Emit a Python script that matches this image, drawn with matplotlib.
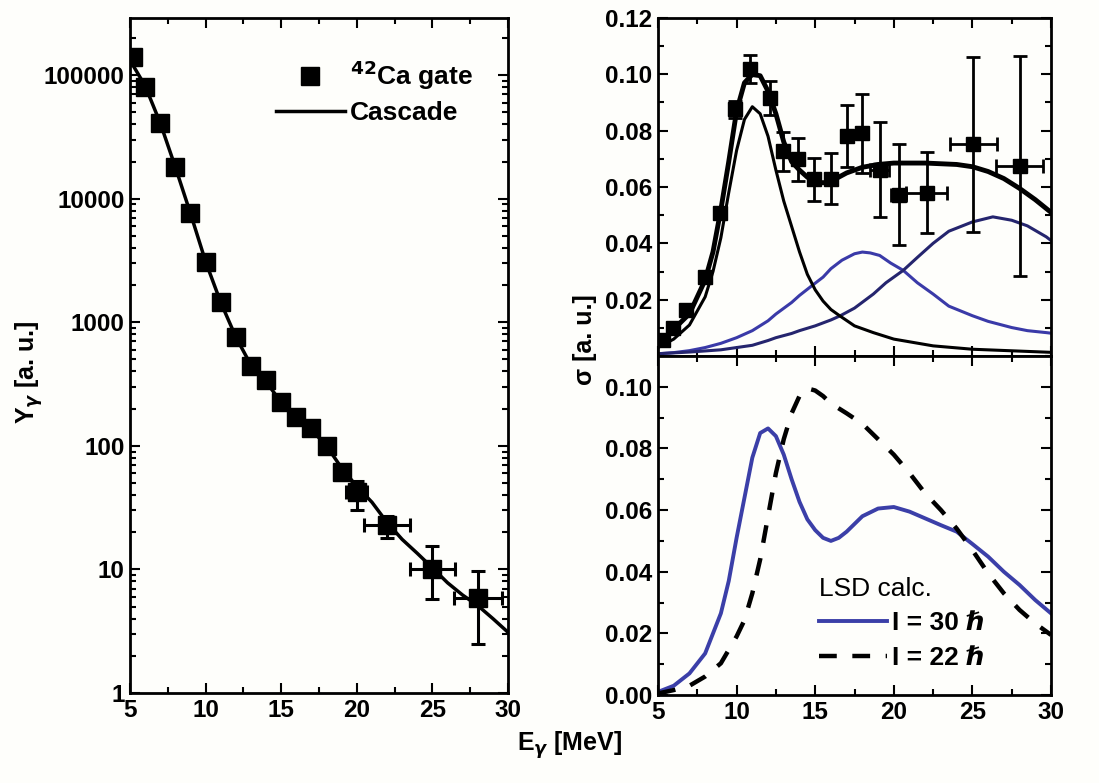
import matplotlib
matplotlib.use("Agg")
import matplotlib.pyplot as plt
from matplotlib.ticker import MultipleLocator, LogLocator, NullFormatter, FixedLocator
from matplotlib.lines import Line2D

plt.rcParams['font.family'] = ['Liberation Sans', 'DejaVu Sans']
plt.rcParams['font.weight'] = 'bold'

# ---------------- Left panel: gamma yield ----------------
yield_x = [5.2, 6, 7, 8, 9, 10, 11, 12, 13, 14, 15, 16, 17, 18, 19, 20, 22, 25, 28]
yield_y = [140000, 80000, 41000, 18000, 7600, 3100, 1450, 760, 440, 340, 225, 170, 140, 100, 61, 42, 23, 10, 5.9]
yield_yerr_lo = [0, 0, 0, 0, 0, 0, 0, 0, 0, 0, 0, 0, 0, 0, 8, 12, 5, 4.2, 3.4]
yield_yerr_hi = [0, 0, 0, 0, 0, 0, 0, 0, 0, 0, 0, 0, 0, 0, 8, 10, 4, 5.5, 3.8]
yield_xerr = [0, 0, 0, 0, 0, 0, 0, 0, 0, 0, 0, 0, 0, 0, 0.5, 0.7, 1.5, 1.5, 1.6]

cascade_x = [5, 5.2, 6, 7, 8, 9, 10, 11, 12, 13, 14, 15, 16, 17, 18, 19, 20, 21, 22, 23, 24, 25, 26, 27, 28, 29, 30]
cascade_y = [150000, 120000, 82000, 41000, 18000, 7600, 3100, 1450, 760, 450, 330, 225, 170, 135, 100, 66, 47, 35, 24, 17.5, 13.5, 10.3, 7.8, 6.2, 5.1, 4.0, 3.1]

# ---------------- Upper right: strength function fit ----------------
sig_x = [5.3, 5.95, 6.8, 7.97, 8.93, 9.88, 10.84, 12.1, 12.96, 13.9, 14.9, 16.0, 17.0, 17.95, 19.1, 20.3, 22.1, 25.05, 28.0]
sig_y = [0.0058, 0.010, 0.0164, 0.028, 0.0508, 0.0876, 0.1018, 0.0917, 0.0727, 0.0698, 0.0627, 0.063, 0.078, 0.079, 0.0662, 0.0573, 0.058, 0.0751, 0.0674]
sig_yerr = [0.001, 0.001, 0.0015, 0.002, 0.002, 0.003, 0.005, 0.006, 0.007, 0.0075, 0.0075, 0.009, 0.011, 0.014, 0.017, 0.018, 0.0145, 0.031, 0.039]
sig_xerr = [0, 0, 0, 0, 0, 0, 0, 0, 0, 0, 0, 0, 0, 0, 0.6, 0.5, 1.3, 1.5, 1.5]

total_x = [5, 5.5, 6, 7, 8, 8.5, 9, 9.5, 10, 10.5, 11, 11.5, 12, 12.5, 13, 13.5, 14, 14.5, 15, 15.5,
           16, 17, 18, 19, 20, 22, 24, 25, 26, 27, 28, 29, 30]
total_y = [0.005, 0.0065, 0.0095, 0.015, 0.027, 0.037, 0.052, 0.069, 0.087, 0.097, 0.100, 0.0995, 0.094,
           0.086, 0.076, 0.069, 0.066, 0.0635, 0.062, 0.0615, 0.062, 0.065, 0.067, 0.068, 0.0685, 0.0685,
           0.068, 0.0672, 0.0655, 0.063, 0.0595, 0.0555, 0.051]

gdr1_x = [5, 6, 7, 8, 8.5, 9, 9.5, 10, 10.5, 11, 11.5, 12, 12.5, 13, 13.5, 14, 14.5, 15, 15.5, 16,
          16.5, 17.5, 18.7, 20, 22.5, 25, 30]
gdr1_y = [0.003, 0.006, 0.011, 0.021, 0.030, 0.042, 0.058, 0.073, 0.084, 0.0885, 0.086, 0.078, 0.066,
          0.055, 0.046, 0.037, 0.029, 0.0235, 0.0195, 0.0165, 0.0145, 0.0107, 0.0083, 0.006, 0.0036,
          0.0024, 0.0013]

gdr2_x = [5, 6, 7, 8, 9, 10, 11, 12, 12.5, 13.5, 14, 14.8, 15.5, 16, 16.7, 17.5, 18, 18.5, 19.1, 19.8,
          20.6, 21.5, 22.5, 23.5, 25, 26, 27.5, 28.5, 29.7, 30]
gdr2_y = [0.0008, 0.0012, 0.0019, 0.003, 0.0045, 0.0065, 0.009, 0.0125, 0.0149, 0.019, 0.0215, 0.025,
          0.028, 0.031, 0.034, 0.0363, 0.0369, 0.0366, 0.0357, 0.033, 0.0304, 0.026, 0.022, 0.0177,
          0.0143, 0.0123, 0.0101, 0.009, 0.0083, 0.0081]

gdr3_x = [5, 7, 9, 10, 11, 12, 12.5, 13.5, 14, 15, 16, 16.6, 17.5, 18.7, 19.5, 20.6, 21.5, 22.5, 23.5,
          25, 26.3, 27.5, 28.5, 29.7, 30]
gdr3_y = [0.0008, 0.0014, 0.0022, 0.003, 0.0038, 0.0055, 0.0065, 0.008, 0.009, 0.0107, 0.0128, 0.0143,
          0.017, 0.022, 0.026, 0.0304, 0.035, 0.040, 0.0443, 0.0476, 0.0494, 0.0482, 0.0462, 0.0423, 0.041]

# ---------------- Lower right: LSD calculations ----------------
lsd30_x = [5, 6, 7, 8, 9, 9.5, 10, 10.5, 11, 11.5, 12, 12.5, 13, 13.5, 14, 14.5, 15, 15.5, 16, 16.5, 17,
           18, 19, 20, 21, 22, 23, 24, 25, 26, 27, 28, 29, 30]
lsd30_y = [0.001, 0.003, 0.007, 0.0135, 0.0265, 0.037, 0.051, 0.064, 0.077, 0.085, 0.0865, 0.084, 0.078,
           0.070, 0.0627, 0.057, 0.0535, 0.051, 0.050, 0.051, 0.053, 0.058, 0.0605, 0.061, 0.0595, 0.0573,
           0.0551, 0.053, 0.049, 0.0449, 0.040, 0.0357, 0.0308, 0.0265]
lsd22_x = [5, 6, 7, 8, 9, 10, 10.5, 11, 11.5, 12, 12.5, 13, 13.5, 14, 14.5, 15, 15.5, 16, 17, 18, 19, 20,
           21, 22, 23, 24, 25, 26, 27, 28, 29, 30]
lsd22_y = [0.0005, 0.0016, 0.003, 0.006, 0.0103, 0.019, 0.0243, 0.033, 0.044, 0.058, 0.072, 0.083, 0.0914,
           0.097, 0.0995, 0.0988, 0.097, 0.0946, 0.0914, 0.088, 0.083, 0.078, 0.072, 0.0654, 0.060, 0.054,
           0.047, 0.0395, 0.033, 0.0276, 0.0232, 0.0195]

xticks = [5, 10, 15, 20, 25, 30]

fig = plt.figure(figsize=(10.99, 7.83), dpi=100)
fig.patch.set_facecolor('#fefefb')

W, H = 1099, 783
def rect(x0, y0, x1, y1):
    return [x0 / W, 1 - y1 / H, (x1 - x0) / W, (y1 - y0) / H]

axL = fig.add_axes(rect(130, 18, 508, 693))
axT = fig.add_axes(rect(658, 18, 1051, 356))
axB = fig.add_axes(rect(658, 356, 1051, 695))

def style(ax):
    ax.set_facecolor('#fefefb')
    for s in ax.spines.values():
        s.set_linewidth(2.0)
    ax.tick_params(which='both', direction='in', top=True, right=True, width=1.5)
    ax.tick_params(which='major', length=7, labelsize=17.5, pad=4)
    ax.tick_params(which='minor', length=4)
    for lab in ax.get_xticklabels() + ax.get_yticklabels():
        lab.set_fontweight('bold')

# ---- left panel
axL.set_yscale('log')
axL.set_xlim(5, 30)
axL.set_ylim(1, 2.9e5)
axL.plot(cascade_x, cascade_y, color='black', lw=2.5, zorder=2)
axL.errorbar(yield_x, yield_y, yerr=[yield_yerr_lo, yield_yerr_hi], xerr=yield_xerr,
             fmt='s', color='black', ms=13, elinewidth=2.2, capsize=5, capthick=2.2, zorder=3)
axL.set_xticks(xticks)
axL.xaxis.set_minor_locator(MultipleLocator(2.5))
axL.yaxis.set_major_locator(FixedLocator([1, 10, 100, 1000, 10000, 100000]))
axL.set_yticklabels(['1', '10', '100', '1000', '10000', '100000'])
axL.yaxis.set_minor_locator(LogLocator(base=10, subs=range(2, 10)))
axL.yaxis.set_minor_formatter(NullFormatter())
style(axL)
axL.set_ylabel(r'Y$_\gamma$ [a. u.]', fontsize=18, fontweight='bold')
axL.yaxis.set_label_coords(-0.224, 0.475)
h1 = Line2D([], [], marker='s', color='black', ls='none', ms=13)
h2 = Line2D([], [], color='black', lw=2.5)
axL.legend([h1, h2], [r'$^{42}$Ca gate', 'Cascade'], loc='upper right', frameon=False,
           prop={'size': 19, 'weight': 'bold'}, handlelength=2.6, handletextpad=0.2,
           bbox_to_anchor=(0.97, 0.975), labelspacing=0.35)

# ---- upper right
axT.set_xlim(5, 30)
axT.set_ylim(0, 0.12)
axT.plot(gdr2_x, gdr2_y, color='#3a3aa8', lw=2.2, zorder=2)
axT.plot(gdr3_x, gdr3_y, color='#25256e', lw=2.2, zorder=2)
axT.plot(gdr1_x, gdr1_y, color='black', lw=2.2, zorder=2)
axT.plot(total_x, total_y, color='black', lw=3.5, zorder=3)
axT.errorbar(sig_x, sig_y, yerr=sig_yerr, xerr=sig_xerr, fmt='s', color='black', ms=10,
             elinewidth=2.0, capsize=5, capthick=2.0, zorder=4)
axT.set_xticks(xticks)
axT.set_xticklabels([])
axT.xaxis.set_minor_locator(MultipleLocator(2.5))
axT.set_yticks([0.02, 0.04, 0.06, 0.08, 0.10, 0.12])
axT.set_yticklabels(['0.02', '0.04', '0.06', '0.08', '0.10', '0.12'])
axT.yaxis.set_minor_locator(MultipleLocator(0.01))
style(axT)

# ---- lower right
axB.set_xlim(5, 30)
axB.set_ylim(0, 0.11)
axB.plot(lsd30_x, lsd30_y, color='#3b3fa8', lw=2.8, label='I = 30 ℏ')
axB.plot(lsd22_x, lsd22_y, color='black', lw=3.2, dashes=(4, 3.5), label='I = 22 ℏ')
axB.set_xticks(xticks)
axB.xaxis.set_minor_locator(MultipleLocator(2.5))
axB.set_yticks([0.0, 0.02, 0.04, 0.06, 0.08, 0.10])
axB.set_yticklabels(['0.00', '0.02', '0.04', '0.06', '0.08', '0.10'])
axB.yaxis.set_minor_locator(MultipleLocator(0.01))
style(axB)
leg = axB.legend(loc='lower left', bbox_to_anchor=(0.375, 0.035), frameon=False, borderpad=0,
                 title='LSD calc.', prop={'size': 19, 'weight': 'bold'},
                 title_fontproperties={'size': 19, 'weight': 'normal'},
                 handlelength=2.6, handletextpad=0.2, labelspacing=0.4)
leg._legend_box.align = 'left'

fig.text(570 / W, 1 - 745 / H, r'E$_\gamma$ [MeV]', ha='center', va='center',
         fontsize=18, fontweight='bold')
fig.text(585 / W, 1 - 340 / H, 'σ [a. u.]', ha='center', va='center', rotation=90,
         fontsize=18, fontweight='bold')

fig.savefig('out.png', dpi=100, facecolor=fig.get_facecolor())
